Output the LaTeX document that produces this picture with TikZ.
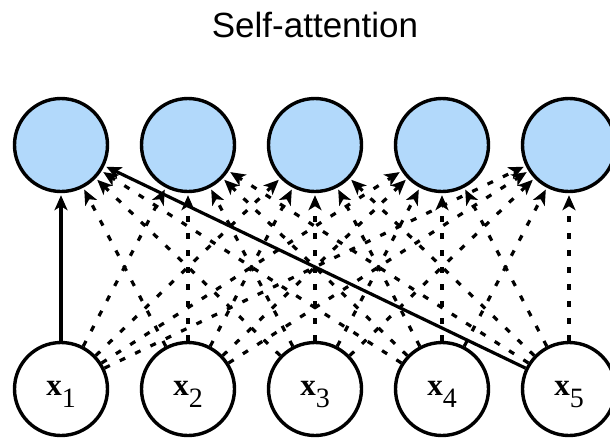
\documentclass[tikz,border=0pt]{standalone}
\usepackage{fontspec}
\setmainfont{Liberation Serif}
\newfontfamily\titlefont{Liberation Sans}
\usetikzlibrary{arrows.meta}
\definecolor{nodeblue}{RGB}{178,217,251}
\newcommand{\xlab}[1]{{\fontsize{31}{31}\selectfont\bfseries x}\raisebox{-12pt}{\fontsize{28}{28}\selectfont #1}}
\tikzset{
  outnode/.style={circle, draw=black, line width=3.4pt, fill=nodeblue, minimum size=93pt, inner sep=0pt},
  innode/.style={circle, draw=black, line width=3.4pt, fill=white, minimum size=93pt, inner sep=0pt, text height=14pt, text depth=2pt},
  conn/.style={line width=3.2pt, -{Stealth[length=15pt, width=13pt, inset=4pt]}, shorten >=2pt},
  dconn/.style={conn, dash pattern=on 6pt off 11pt},
}
\begin{document}
\begin{tikzpicture}[x=1pt, y=-1pt]
\useasboundingbox (0,0) rectangle (610,437);
\node[font=\titlefont\fontsize{35}{35}\selectfont, anchor=base] (title) at (315,37) {Self-attention};
\foreach \i in {1,...,5} {
  \node[outnode] (y\i) at ({61+127*(\i-1)},145) {};
  \node[innode] (x\i) at ({61+127*(\i-1)},389) {\xlab{\i}};
}
\foreach \i in {1,...,5} {
  \foreach \j in {1,...,5} {
    \ifnum\i=1
      \ifnum\j=1 \else\ifnum\j=5 \else
        \draw[dconn] (x\j) -- (y\i);
      \fi\fi
    \else
      \draw[dconn] (x\j) -- (y\i);
    \fi
  }
}
\draw[conn] (x1) -- (y1);
\draw[conn] (x5) -- (y1);
\end{tikzpicture}
\end{document}
